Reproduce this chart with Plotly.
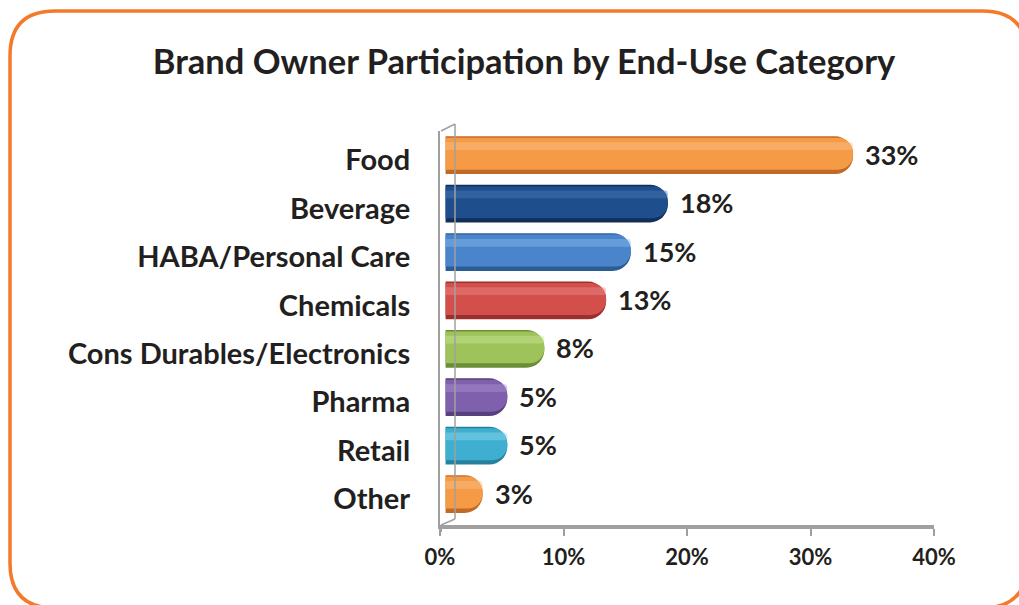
import plotly.graph_objects as go

# Survey results: share of brand owners by end-use category
categories = ["Food", "Beverage", "HABA/Personal Care", "Chemicals",
              "Cons Durables/Electronics", "Pharma", "Retail", "Other"]
shares = [33, 18, 15, 13, 8, 5, 5, 3]
x_ticks = [0, 10, 20, 30, 40]
x_tick_labels = ["0%", "10%", "20%", "30%", "40%"]

# (body, shadow edge, highlight) colour per bar
body_colors = ["#F59A45", "#1F4E8C", "#4A85CC", "#D24F4C",
               "#9DC35A", "#7F60AC", "#3FAFD0", "#F59A45"]
edge_colors = ["#C06A26", "#112F58", "#2C5C96", "#9A302D",
               "#6C8D35", "#56407E", "#26819C", "#C06A26"]
glow_colors = ["#FBC48F", "#4A79B8", "#8BB9EC", "#EC8C89",
               "#CBE59A", "#AE95D2", "#8ED7EC", "#FBC48F"]

FONT = "Lato"
TEXT = "#231F20"
GREY = "#A0A0A0"

W, H = 1019, 605
L, R, T, B = 440, 85, 131, 80
PW, PH = W - L - R, H - T - B


def px(x):
    return (x - L) / PW


def py(y):
    return (H - B - y) / PH


fig = go.Figure()

# empty trace so the visible value axis is rendered
fig.add_trace(go.Scatter(x=[0], y=[categories[0]], mode="markers",
                         marker=dict(opacity=0), hoverinfo="skip",
                         showlegend=False))

# layered bars give the rounded cylinder look
fig.add_trace(go.Bar(
    y=categories, x=shares, orientation="h", xaxis="x2",
    width=0.78, marker=dict(color=edge_colors, cornerradius=18,
                            line=dict(width=0)),
    hoverinfo="skip", showlegend=False))
fig.add_trace(go.Bar(
    y=categories, x=shares, orientation="h", xaxis="x2",
    width=0.66, offset=-0.36,
    marker=dict(color=body_colors, cornerradius=15, line=dict(width=0)),
    hoverinfo="skip", showlegend=False))
fig.add_trace(go.Bar(
    y=categories, x=shares, orientation="h", xaxis="x2",
    width=0.16, offset=-0.27,
    marker=dict(color=glow_colors, cornerradius=4, opacity=0.45,
                line=dict(width=0)),
    hovertemplate="%{y}: %{x}%<extra></extra>", showlegend=False))

# value labels at the end of each bar
for cat, val in zip(categories, shares):
    fig.add_annotation(x=val, y=cat, xref="x2", yref="y", text=f"{val}%",
                       xanchor="left", yanchor="middle", xshift=10, yshift=1,
                       showarrow=False,
                       font=dict(family=FONT, size=27, color=TEXT, weight=700))

shapes = []
# 3D wall edges of the value axis
shapes.append(dict(type="line", xref="paper", yref="paper",
                   x0=px(455), y0=py(124), x1=px(455), y1=py(519),
                   line=dict(color=GREY, width=1.5)))
shapes.append(dict(type="line", xref="paper", yref="paper",
                   x0=px(441), y0=py(131), x1=px(455), y1=py(124),
                   line=dict(color=GREY, width=1.5)))
shapes.append(dict(type="line", xref="paper", yref="paper",
                   x0=px(441), y0=py(525), x1=px(455), y1=py(519),
                   line=dict(color=GREY, width=1.5)))
shapes.append(dict(type="line", xref="paper", yref="paper",
                   x0=px(441), y0=py(525), x1=px(441), y1=py(532),
                   line=dict(color=GREY, width=2)))

# rounded orange frame around the whole chart
x0, y0, x1, y1, r = 10, 11, 1027, 608, 45
path = (f"M {px(x0 + r)},{py(y0)} L {px(x1 - r)},{py(y0)} "
        f"Q {px(x1)},{py(y0)} {px(x1)},{py(y0 + r)} "
        f"L {px(x1)},{py(y1 - r)} Q {px(x1)},{py(y1)} {px(x1 - r)},{py(y1)} "
        f"L {px(x0 + r)},{py(y1)} Q {px(x0)},{py(y1)} {px(x0)},{py(y1 - r)} "
        f"L {px(x0)},{py(y0 + r)} Q {px(x0)},{py(y0)} {px(x0 + r)},{py(y0)} Z")
shapes.append(dict(type="path", xref="paper", yref="paper", path=path,
                   line=dict(color="#F47A2A", width=3.5),
                   fillcolor="rgba(0,0,0,0)", layer="below"))

fig.update_layout(
    width=W, height=H,
    margin=dict(l=L, r=R, t=T, b=B),
    paper_bgcolor="white", plot_bgcolor="white",
    barmode="overlay",
    title=dict(text="Brand Owner Participation by End-Use Category",
               x=524 / W, xref="container", xanchor="center",
               y=1 - 62 / H, yref="container", yanchor="middle",
               font=dict(family=FONT, size=34.5, color=TEXT, weight=700)),
    xaxis=dict(range=[0, 40], tickvals=x_ticks, ticktext=x_tick_labels,
               showgrid=False, zeroline=False, showline=True,
               linecolor=GREY, linewidth=4, ticks="outside", ticklen=7,
               tickwidth=2, tickcolor=GREY, fixedrange=True,
               ticklabelstandoff=3,
               tickfont=dict(family=FONT, size=22, color=TEXT, weight=700)),
    xaxis2=dict(range=[-0.45, 39.55], overlaying="x", visible=False,
                fixedrange=True),
    yaxis=dict(categoryorder="array", categoryarray=categories,
               range=[7.64, -0.5], showgrid=False, zeroline=False,
               showline=True, linecolor=GREY, linewidth=2, ticks="",
               ticklabelstandoff=22, ticklabelshift=-5, fixedrange=True,
               tickfont=dict(family=FONT, size=29, color=TEXT, weight=700)),
    shapes=shapes,
)

fig.write_html("out.html")
